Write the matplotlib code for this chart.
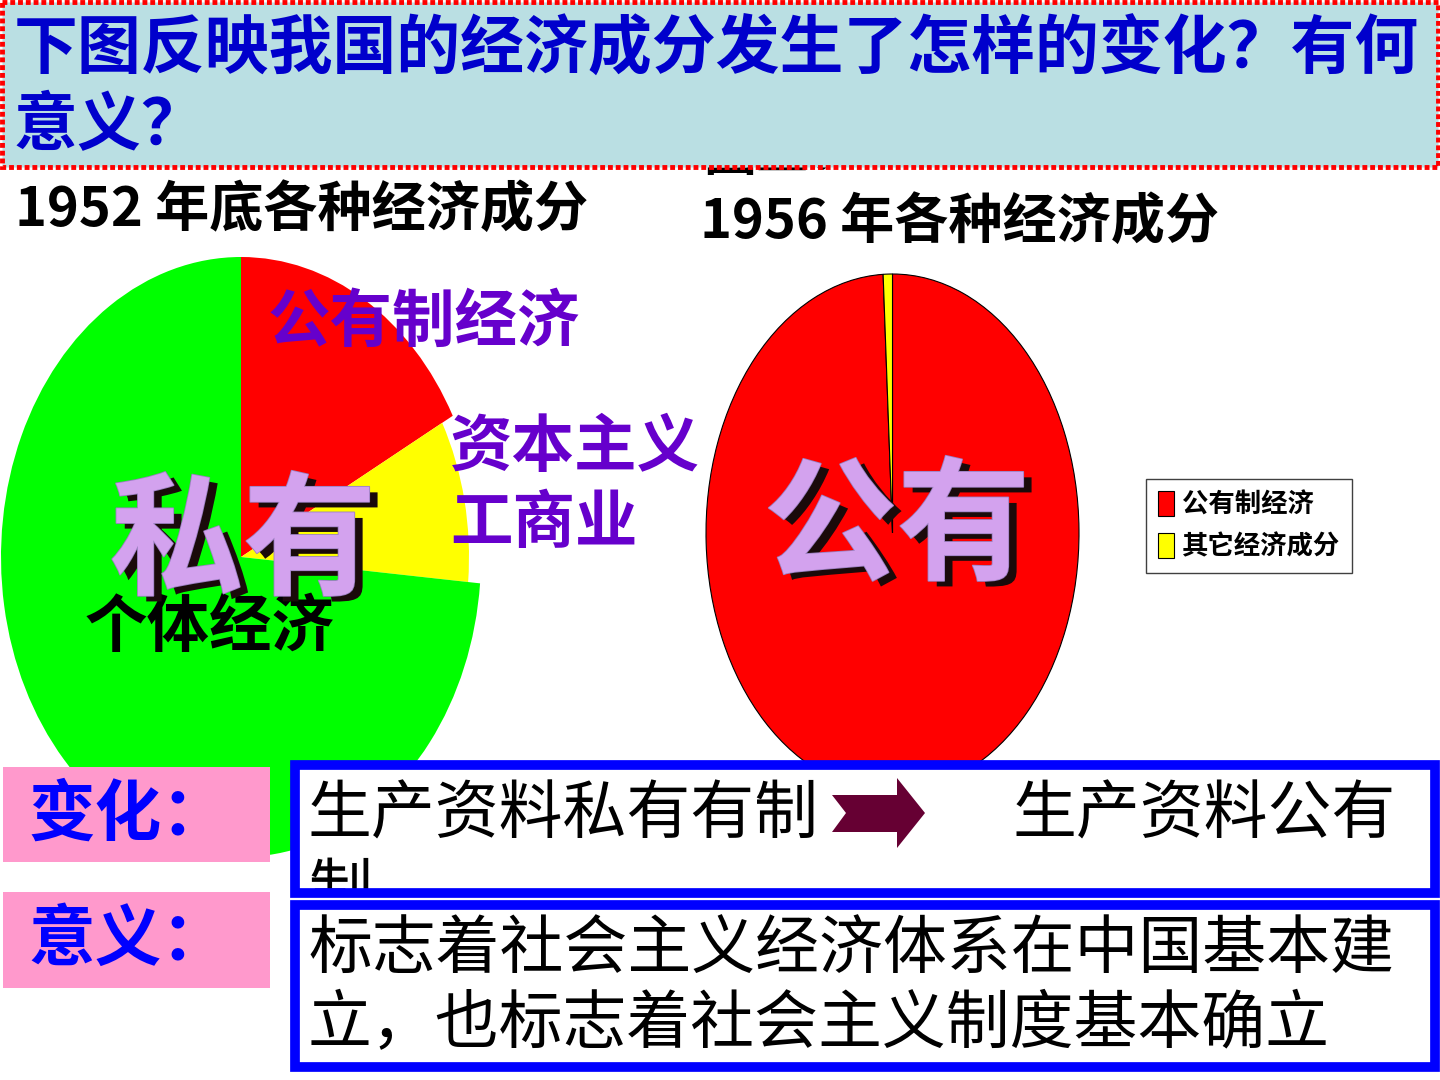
import matplotlib
matplotlib.use("Agg")
import matplotlib.pyplot as plt
from matplotlib.patches import Rectangle, Polygon, Patch
from matplotlib.transforms import TransformedBbox, Bbox
import matplotlib.patheffects as pe

plt.rcParams['font.family'] = ['Noto Sans CJK SC', 'DejaVu Sans']

# ---------------- data ----------------
title_lines = ['下图反映我国的经济成分发生了怎样的变化？有何', '意义？']
subtitle_1952 = '1952 年底各种经济成分'
subtitle_1956 = '1956 年各种经济成分'

labels_1952 = ['公有制经济', '资本主义工商业', '个体经济']
values_1952 = [17.2, 9.2, 73.6]
colors_1952 = ['#FF0000', '#FFFF00', '#00FF00']

labels_1956 = ['公有制经济', '其它经济成分']
values_1956 = [99.2, 0.8]
colors_1956 = ['#FF0000', '#FFFF00']

change_label = '变化：'
meaning_label = '意义：'
change_from = '生产资料私有有制'
change_to = '生产资料公有'
change_tail = '制'
meaning_lines = ['标志着社会主义经济体系在中国基本建', '立，也标志着社会主义制度基本确立']

W, H = 1440, 1080
fig = plt.figure(figsize=(14.4, 10.8), dpi=100)
fig.patch.set_facecolor('white')


def fig_rect(x0, y0, x1, y1):
    """pixel box (top-left origin) -> figure fraction rect"""
    return [x0 / W, 1 - y1 / H, (x1 - x0) / W, (y1 - y0) / H]


# ---------------- pie 1952 ----------------
ax1 = fig.add_axes(fig_rect(1, 257, 481, 857), zorder=1)
w1, _ = ax1.pie(values_1952, colors=colors_1952, startangle=90,
                counterclock=False, wedgeprops=dict(linewidth=0))
w1[1].set_radius(0.95)
ax1.set_aspect('auto')
ax1.set_xlim(-1, 1)
ax1.set_ylim(-1, 1)
ax1.axis('off')

# ---------------- pie 1956 ----------------
ax2 = fig.add_axes(fig_rect(706, 274, 1079, 792), zorder=1)
w2, _ = ax2.pie(values_1956, colors=colors_1956, startangle=90,
                counterclock=False,
                wedgeprops=dict(linewidth=0.8, edgecolor='black'))
ax2.set_aspect('auto')
ax2.set_xlim(-1, 1)
ax2.set_ylim(-1, 1)
ax2.set_xticks([])
ax2.set_yticks([])
for s in ax2.spines.values():
    s.set_linewidth(0.9)
    s.set_edgecolor('#333333')
handles = [Patch(facecolor=c, edgecolor='black', linewidth=0.8) for c in colors_1956]
ax2.legend(handles, labels_1956, loc='upper left',
           bbox_to_anchor=(1146 / W, 1 - 479 / H), bbox_transform=fig.transFigure,
           prop=dict(size=19, weight='bold'), frameon=True, fancybox=False,
           edgecolor='#404040', framealpha=1, borderaxespad=0,
           handlelength=0.6, handleheight=1.1, handletextpad=0.3,
           labelspacing=0.55, borderpad=0.45)

# ---------------- overlay ----------------
ov = fig.add_axes([0, 0, 1, 1], zorder=10)
ov.set_xlim(0, W)
ov.set_ylim(H, 0)
ov.axis('off')
ov.patch.set_alpha(0)

# title box
ov.add_patch(Rectangle((2, 2), 1436, 165, facecolor='#BADFE3',
                       edgecolor='#FF0000', linewidth=3.5, linestyle=(0, (1, 0.6)),
                       zorder=5))
ov.text(14, 50, title_lines[0], fontsize=46, fontweight='bold', color='#0000CC',
        va='center', ha='left', zorder=6)
ov.text(14, 126, title_lines[1], fontsize=46, fontweight='bold', color='#0000CC',
        va='center', ha='left', zorder=6)
# partly hidden caption behind the title box
ov.text(703, 181, '图二：', fontsize=38, fontweight='bold', color='black',
        va='bottom', ha='left', zorder=1)

# subtitles
ov.text(15, 210, subtitle_1952, fontsize=39, fontweight='bold', color='black',
        va='center', ha='left', zorder=6)
ov.text(700, 222, subtitle_1956, fontsize=39, fontweight='bold', color='black',
        va='center', ha='left', zorder=6)

# pie labels 1952
purple = '#6600CC'
ov.text(268, 322, labels_1952[0], fontsize=45, fontweight='bold', color=purple,
        va='center', ha='left', zorder=6)
ov.text(450, 447, labels_1952[1][:4], fontsize=45, fontweight='bold', color=purple,
        va='center', ha='left', zorder=6)
ov.text(450, 523, labels_1952[1][4:], fontsize=45, fontweight='bold', color=purple,
        va='center', ha='left', zorder=6)
ov.text(85, 628, labels_1952[2], fontsize=45, fontweight='bold', color='black',
        va='center', ha='left', zorder=6)

# big 3D-like words
big_fx = [pe.withSimplePatchShadow(offset=(6, -4), shadow_rgbFace='#1A0A0A', alpha=1.0),
          pe.Stroke(linewidth=1.2, foreground='#9A7FC0'), pe.Normal()]
ov.text(243, 545, '私有', fontsize=96, fontweight='bold', color='#D3A2EE',
        va='center', ha='center', zorder=7, path_effects=big_fx)
ov.text(897, 530, '公有', fontsize=96, fontweight='bold', color='#D3A2EE',
        va='center', ha='center', zorder=7, path_effects=big_fx)

# bottom: pink labels
ov.add_patch(Rectangle((3, 767), 267, 95, facecolor='#FF99CC', edgecolor='none', zorder=5))
ov.add_patch(Rectangle((3, 892), 267, 96, facecolor='#FF99CC', edgecolor='none', zorder=5))
ov.text(28, 815, change_label, fontsize=48, fontweight='bold', color='#0000FF',
        va='center', ha='left', zorder=6)
ov.text(28, 940, meaning_label, fontsize=48, fontweight='bold', color='#0000FF',
        va='center', ha='left', zorder=6)

# blue boxes
box1 = Rectangle((295, 765), 1140, 128, facecolor='white', edgecolor='none', zorder=5)
ov.add_patch(box1)
ov.add_patch(Rectangle((295, 765), 1140, 128, facecolor='none', edgecolor='#0000FF',
                       linewidth=7, zorder=8))
box2 = Rectangle((295, 905), 1140, 162, facecolor='white', edgecolor='none', zorder=5)
ov.add_patch(box2)
ov.add_patch(Rectangle((295, 905), 1140, 162, facecolor='none', edgecolor='#0000FF',
                       linewidth=7, zorder=8))

ov.text(308, 815, change_from, fontsize=46, color='black', va='center', ha='left', zorder=6)
ov.text(1013, 815, change_to, fontsize=46, color='black', va='center', ha='left', zorder=6)
t_tail = ov.text(308, 893, change_tail, fontsize=46, color='black', va='center',
                 ha='left', zorder=6)
t_tail.set_clip_box(TransformedBbox(Bbox([[295, 765], [1435, 893]]), ov.transData))
t_tail.set_clip_on(True)

# arrow between the two phrases
ov.add_patch(Polygon([(832, 795), (897, 795), (897, 778), (925, 813), (897, 848),
                      (897, 832), (832, 832), (846, 813)], closed=True,
                     facecolor='#660033', edgecolor='none', zorder=6))

ov.text(308, 950, meaning_lines[0], fontsize=46, color='black', va='center', ha='left', zorder=6)
ov.text(308, 1025, meaning_lines[1], fontsize=46, color='black', va='center', ha='left', zorder=6)

fig.savefig('out.png', dpi=100)
